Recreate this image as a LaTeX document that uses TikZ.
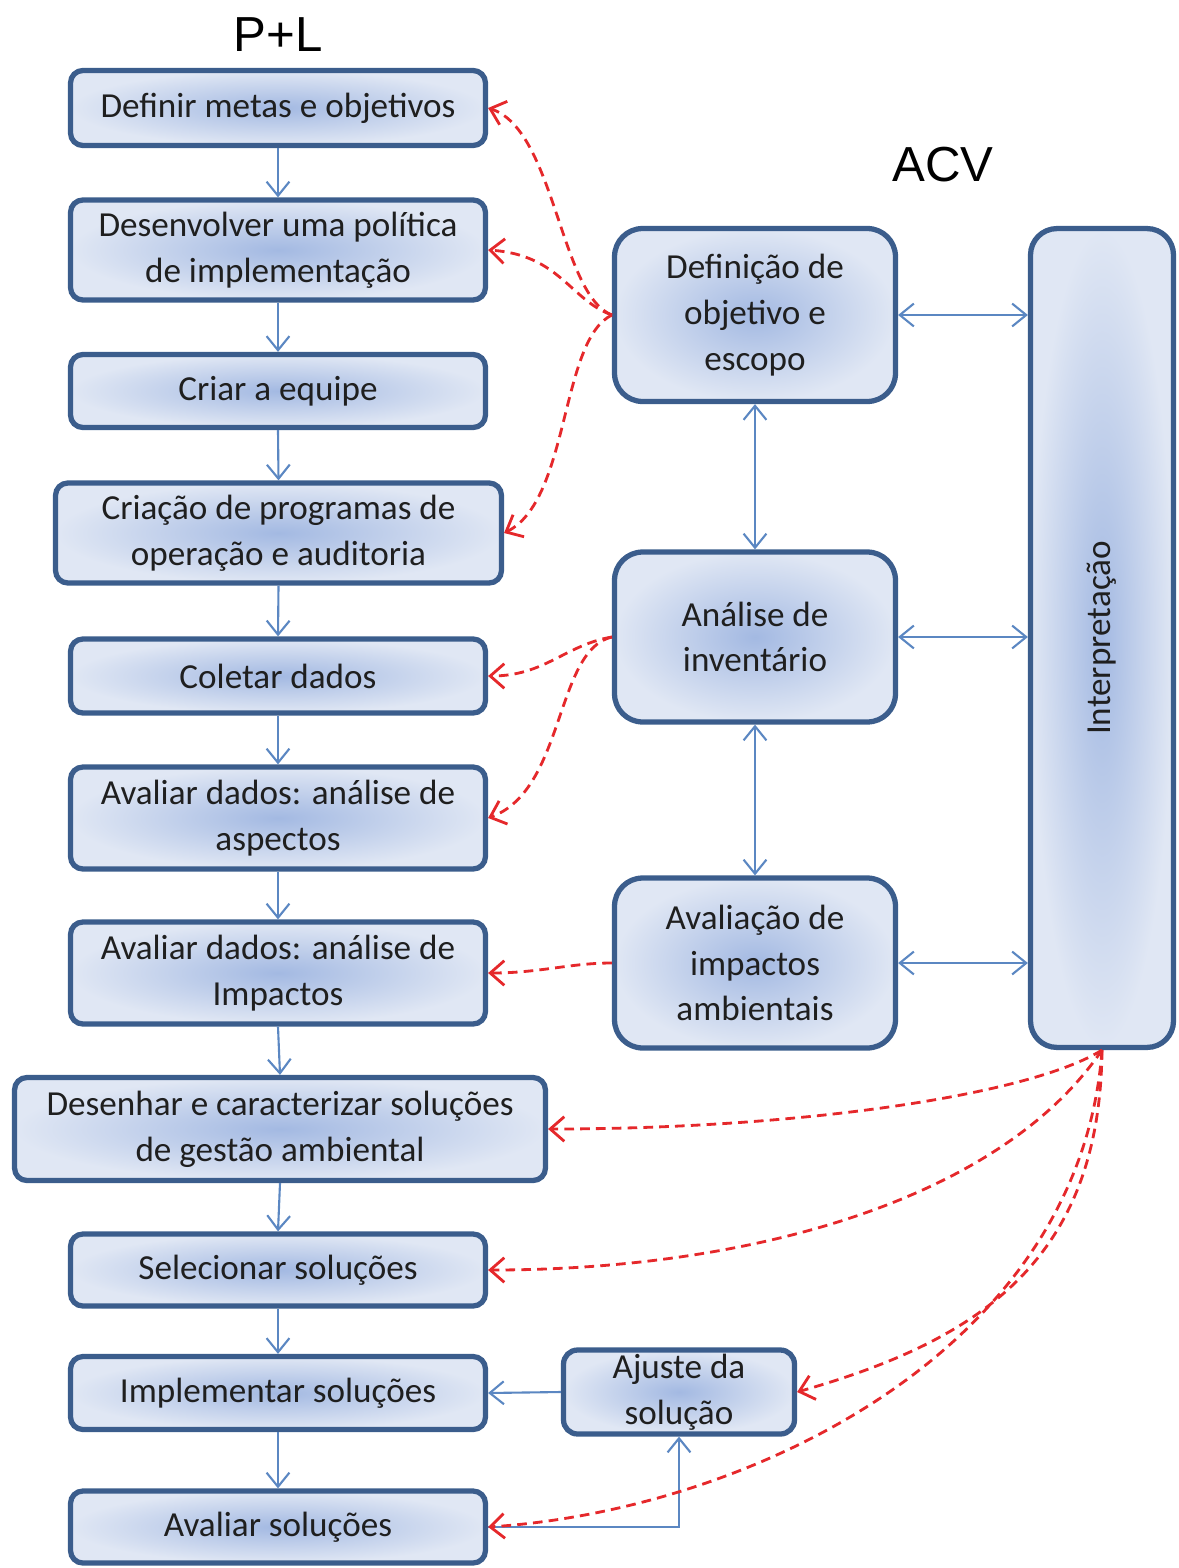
\documentclass[tikz,border=0pt]{standalone}
\usepackage{fontspec}
\setmainfont{Carlito}
\newfontfamily\titlefont{Liberation Sans}
\usetikzlibrary{arrows.meta}
\definecolor{boxborder}{HTML}{3B5D8C}
\definecolor{boxin}{HTML}{A3B9E2}
\definecolor{boxout}{HTML}{E0E7F4}
\definecolor{flowblue}{HTML}{5B87C2}
\definecolor{flowred}{HTML}{E5282B}
\definecolor{txt}{HTML}{1F1F1F}
\begin{document}
\begin{tikzpicture}[x=0.02cm,y=-0.02cm,
  box/.style={draw=boxborder, line width=3pt, rounded corners=7pt,
    inner color=boxin, outer color=boxout, align=center, text=txt,
    font=\fontsize{20}{26}\selectfont, inner sep=0pt},
  pbox/.style={box, minimum width=8.3cm},
  abox/.style={box, rounded corners=16pt, minimum width=5.62cm, minimum height=3.4cm},
  flow/.style={draw=flowblue, line width=1.2pt, -{Straight Barb[length=8pt,width=13pt]}},
  bflow/.style={draw=flowblue, line width=1.2pt, {Straight Barb[length=8pt,width=13pt]}-{Straight Barb[length=8pt,width=13pt]}},
  redflow/.style={draw=flowred, line width=1.6pt, dash pattern=on 5.5pt off 3.5pt, -{Straight Barb[length=8pt,width=14pt]}},
  title/.style={font=\titlefont\fontsize{28}{30}\selectfont, text=black}
]
\useasboundingbox (0,0) rectangle (1179,1568);

% titles
\node[title] (tpl) at (278,35) {P+L};
\node[title] (tacv) at (943,165) {ACV};

% P+L column
\node[pbox, minimum height=1.5cm] (b1) at (278,108) {Definir metas e objetivos};
\node[pbox, minimum height=2.0cm] (b2) at (278,250) {Desenvolver uma política\\de implementação};
\node[pbox, minimum height=1.46cm] (b3) at (278,391) {Criar a equipe};
\node[box, minimum width=8.92cm, minimum height=2.0cm] (b4) at (278.5,533) {Criação de programas de\\operação e auditoria};
\node[pbox, minimum height=1.48cm] (b5) at (278,676) {Coletar dados};
\node[pbox, minimum height=2.04cm] (b6) at (278,818) {Avaliar dados: análise de\\aspectos};
\node[pbox, minimum height=2.04cm] (b7) at (278,973) {Avaliar dados: análise de\\Impactos};
\node[box, minimum width=10.62cm, minimum height=2.06cm] (b8) at (280,1129) {Desenhar e caracterizar soluções\\de gestão ambiental};
\node[pbox, minimum height=1.44cm] (b9) at (278,1270) {Selecionar soluções};
\node[pbox, minimum height=1.46cm] (b10) at (278,1393) {Implementar soluções};
\node[pbox, minimum height=1.44cm] (b11) at (278,1527) {Avaliar soluções};

% ACV column
\node[abox, minimum height=3.46cm] (def) at (755,315) {Definição de\\objetivo e\\escopo};
\node[abox] (inv) at (755,637) {Análise de\\inventário};
\node[abox] (aia) at (755,963) {Avaliação de\\impactos\\ambientais};
\node[box, rounded corners=8pt, minimum width=4.62cm, minimum height=1.68cm] (aj) at (679,1392) {Ajuste da\\solução};
\node[box, rounded corners=15pt, minimum width=2.86cm, minimum height=16.38cm] (ip) at (1102,638) {};
\node[rotate=90, text=txt, font=\fontsize{20}{26}\selectfont] (iplab) at (ip.center) {Interpretação};

% P+L flow
\draw[flow] (b1.south) -- (b2.north);
\draw[flow] (b2.south) -- (b3.north);
\draw[flow] (b3.south) -- (b4.north);
\draw[flow] (b4.south) -- (b5.north);
\draw[flow] (b5.south) -- (b6.north);
\draw[flow] (b6.south) -- (b7.north);
\draw[flow] (b7.south) -- (b8.north);
\draw[flow] (b8.south) -- (b9.north);
\draw[flow] (b9.south) -- (b10.north);
\draw[flow] (b10.south) -- (b11.north);
\draw[flow] (aj.west) -- (b10.east);
\draw[flow] (b11.east) -- (b11.east -| aj.south) -- (aj.south);

% ACV flow
\draw[bflow] (def.south) -- (inv.north);
\draw[bflow] (inv.south) -- (aia.north);
\draw[bflow] (def.east) -- (def.east -| ip.west);
\draw[bflow] (inv.east) -- (inv.east -| ip.west);
\draw[bflow] (aia.east) -- (aia.east -| ip.west);

% red dashed links
\draw[redflow] (def.west) .. controls (560,295) and (555,130) .. (b1.east);
\draw[redflow] (def.west) .. controls (570,300) and (560,255) .. (b2.east);
\draw[redflow] (def.west) .. controls (560,340) and (570,500) .. (b4.east);
\draw[redflow] (inv.west) .. controls (565,645) and (545,676) .. (b5.east);
\draw[redflow] (inv.west) .. controls (555,650) and (565,790) .. (b6.east);
\draw[redflow] (aia.west) .. controls (570,963) and (540,973) .. (b7.east);
\draw[redflow] (ip.south) .. controls (1030,1095) and (800,1129) .. (b8.east);
\draw[redflow] (ip.south) .. controls (1000,1200) and (750,1270) .. (b9.east);
\draw[redflow] (ip.south) .. controls (1100,1260) and (980,1340) .. (aj.east);
\draw[redflow] (ip.south) .. controls (1080,1350) and (750,1510) .. (b11.east);
\end{tikzpicture}
\end{document}
